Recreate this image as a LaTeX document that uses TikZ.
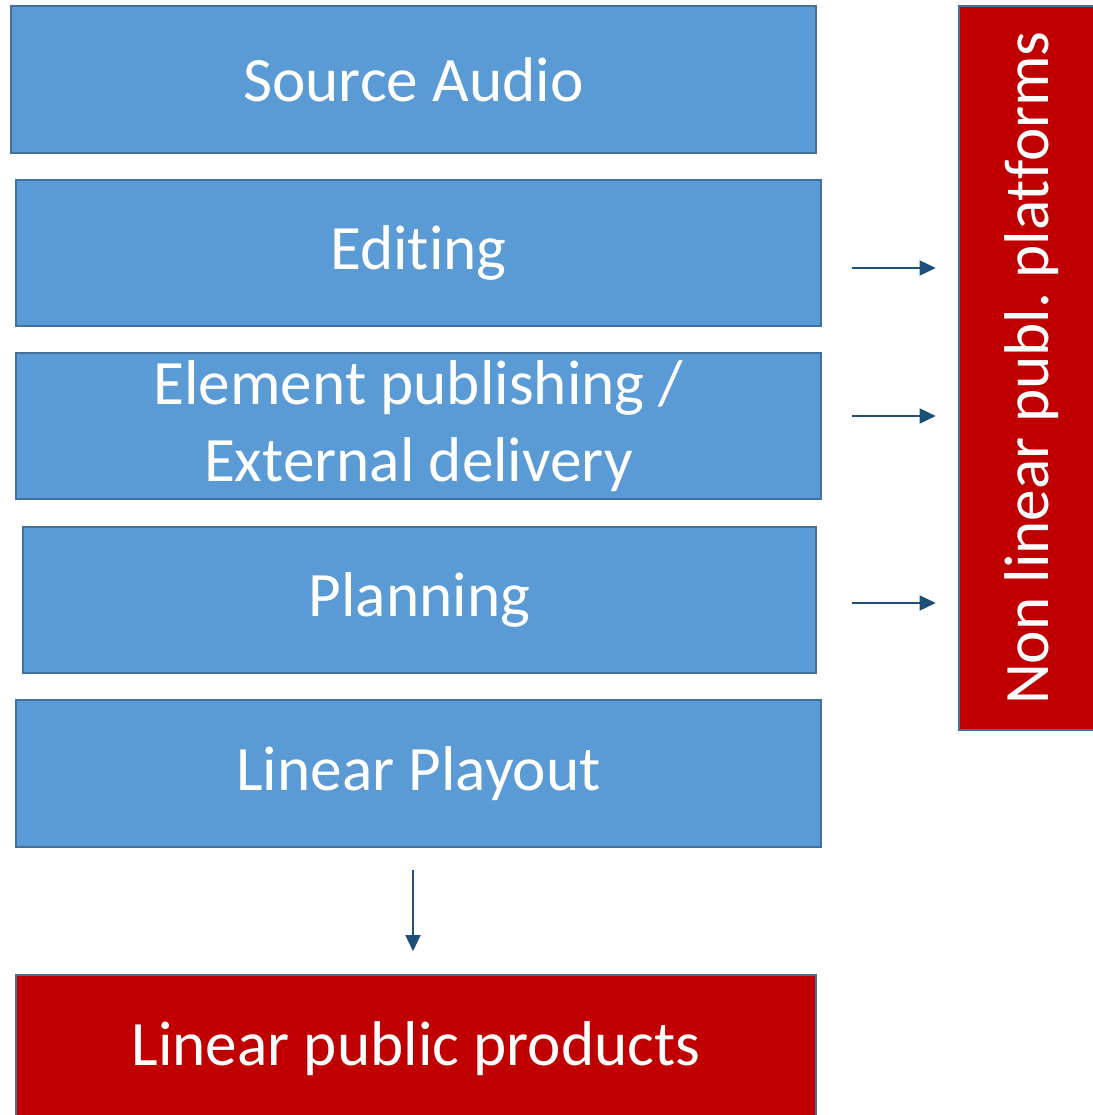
\documentclass[tikz,border=0pt]{standalone}
\usepackage{fontspec}
\setmainfont{Carlito}[Ligatures={NoCommon,NoRequired,NoContextual}]
\usetikzlibrary{arrows.meta}
\definecolor{stageblue}{RGB}{91,155,213}
\definecolor{edgeblue}{RGB}{65,113,156}
\definecolor{productred}{RGB}{192,0,0}
\definecolor{arrowblue}{RGB}{31,78,121}
\frenchspacing

\begin{document}
\begin{tikzpicture}[x=0.02cm,y=-0.02cm,
  stage/.style={draw=edgeblue,line width=1.2pt,fill=stageblue,text=white,
    font=\fontsize{36}{44}\selectfont,align=center,inner sep=0pt,
    minimum width=16.1cm,minimum height=2.93cm},
  product/.style={stage,fill=productred},
  flow/.style={draw=arrowblue,line width=0.8pt,-{Triangle[length=0.32cm,width=0.3cm]}}]
\useasboundingbox (0,0) rectangle (1092,1115);
% Draw the stages of the chain
\node[stage] (source) at (413.5,79.5) {Source Audio};
\node[stage] (editing) at (418.5,253) {Editing};
\node[stage] (element) at (418.5,426) {Element publishing /\\External delivery};
\node[stage,minimum width=15.86cm] (planning) at (419.5,600) {Planning};
\node[stage] (playout) at (418.5,773.5) {Linear Playout};
% Draw the red product boxes
\node[product,minimum width=16cm] (linear) at (416,1048.5) {Linear public products};
\node[product,rotate=90,minimum width=14.48cm] (nonlinear) at (1032,368) {Non linear publ. platforms};
% Arrow ends
\coordinate (e1) at (852,268);
\coordinate (e2) at (852,416);
\coordinate (e3) at (852,603);
\coordinate (p1) at (413,870);
% Draw the arrows
\draw[flow] (e1) -- ([xshift=-0.44cm]e1 -| nonlinear.north);
\draw[flow] (e2) -- ([xshift=-0.44cm]e2 -| nonlinear.north);
\draw[flow] (e3) -- ([xshift=-0.44cm]e3 -| nonlinear.north);
\draw[flow] (p1) -- ([yshift=0.46cm]p1 |- linear.north);
\end{tikzpicture}
\end{document}
